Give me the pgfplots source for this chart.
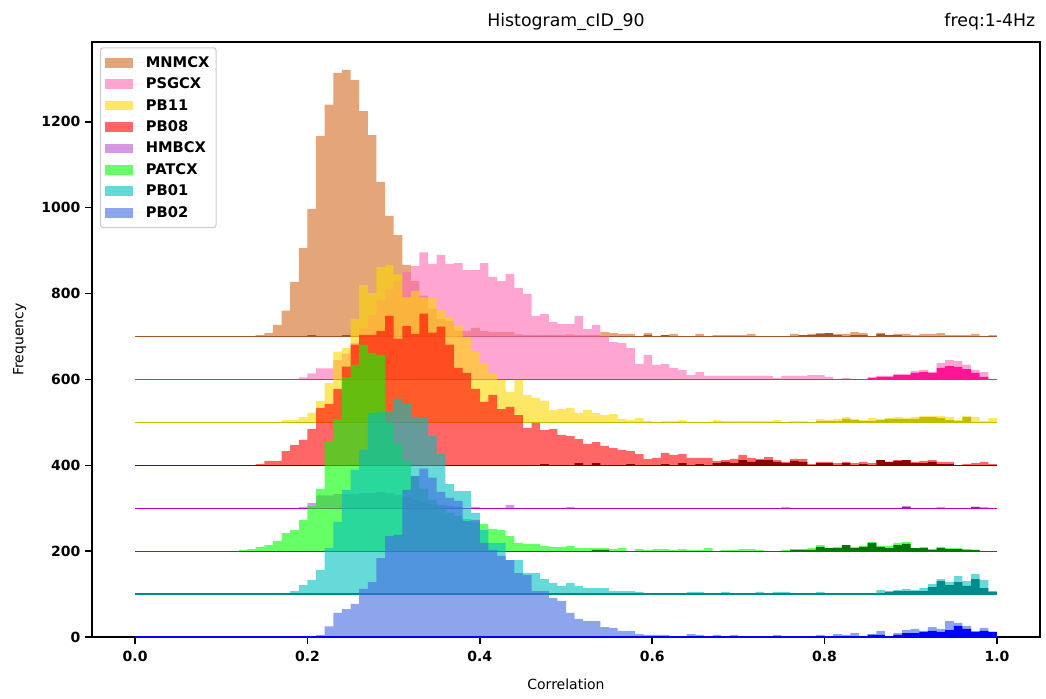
\documentclass[border=0pt]{standalone}
\usepackage{fontspec}
\setmainfont{DejaVu Sans}
\usepackage{pgfplots}
\usepackage{pgfplotstable}
\pgfplotsset{compat=1.18}
\usetikzlibrary{calc}

\definecolor{cM}{RGB}{210,105,30}
\definecolor{dM}{RGB}{160,82,45}
\definecolor{cP}{RGB}{255,105,180}
\definecolor{dP}{RGB}{255,20,147}
\definecolor{cY}{RGB}{255,215,0}
\definecolor{dY}{RGB}{191,191,0}
\definecolor{cR}{RGB}{255,0,0}
\definecolor{dR}{RGB}{139,0,0}
\definecolor{cH}{RGB}{186,85,211}
\definecolor{dH}{RGB}{191,0,191}
\definecolor{cG}{RGB}{0,255,0}
\definecolor{dG}{RGB}{0,120,0}
\definecolor{cC}{RGB}{0,191,191}
\definecolor{dC}{RGB}{0,139,139}
\definecolor{cB}{RGB}{65,105,225}
\definecolor{dB}{RGB}{0,0,255}

% bin left edge, then light/dark counts per station
\pgfplotstableread{
x M Md P Pd Y Yd R Rd H Hd G Gd C Cd B Bd
0.00 0 0 0 0 0 0 0 0 0 0 0 0 0 0 0 0
0.12 0 0 0 0 0 0 0 0 0 0 3 0 0 0 0 0
0.13 0 0 0 0 0 0 0 0 0 0 5 0 0 0 0 0
0.14 3 0 0 0 0 0 3 0 0 0 10 0 0 0 0 0
0.15 8 0 0 0 0 0 10 0 0 0 14 0 0 0 0 0
0.16 27 0 0 0 0 0 10 0 0 0 24 0 0 0 0 0
0.17 60 0 0 0 5 0 33 0 0 0 42 0 0 0 0 0
0.18 127 0 0 0 6 0 47 0 0 0 49 0 7 0 0 0
0.19 206 0 5 0 12 0 59 0 3 0 73 0 21 0 0 0
0.20 297 3 14 0 22 0 85 0 12 0 105 0 33 0 0 0
0.21 467 0 26 0 50 0 134 0 30 0 145 0 56 0 5 0
0.22 540 0 26 0 92 0 143 0 30 0 257 0 107 0 25 0
0.23 614 0 45 0 165 0 178 0 33 0 307 0 168 0 56 0
0.24 621 3 60 0 173 0 230 0 33 0 405 0 242 0 65 0
0.25 597 0 85 0 241 0 281 0 33 0 434 0 290 0 77 0
0.26 525 0 120 0 320 0 304 0 35 0 481 0 336 0 112 0
0.27 469 0 150 0 301 0 304 0 35 0 462 0 422 0 128 0
0.28 360 0 185 0 362 0 313 0 38 0 457 0 425 0 184 0
0.29 281 0 210 0 366 0 348 0 35 0 300 0 427 0 235 0
0.30 236 0 230 0 345 0 295 0 30 0 250 0 455 0 238 0
0.31 167 0 250 0 291 0 325 0 25 0 210 0 443 0 343 0
0.32 129 0 264 0 306 0 306 0 20 0 175 0 413 0 375 0
0.33 95 0 296 0 291 0 353 0 15 0 145 0 410 0 392 0
0.34 65 0 269 0 290 0 309 0 10 0 120 0 368 0 371 0
0.35 41 0 290 0 262 0 323 0 8 0 103 0 326 0 338 0
0.36 36 0 269 0 245 0 281 0 5 0 90 0 256 0 324 0
0.37 13 0 271 0 227 0 227 0 3 0 82 0 240 0 317 0
0.38 13 0 255 0 199 0 215 0 0 0 75 0 240 0 270 0
0.39 20 0 255 0 164 0 178 0 3 0 68 0 189 0 273 0
0.40 13 0 271 0 138 0 148 0 0 0 63 0 149 0 219 0
0.41 10 0 239 0 113 0 164 0 0 0 52 0 119 0 203 0
0.42 10 0 229 0 99 0 131 0 0 0 49 0 119 0 189 0
0.43 10 0 246 0 71 0 136 0 8 0 35 0 79 0 179 0
0.44 5 0 213 0 99 0 117 0 0 0 19 0 79 0 149 0
0.45 4 0 199 0 64 0 87 0 0 0 17 0 49 0 144 0
0.46 4 0 148 0 57 0 99 0 0 0 17 0 49 0 107 0
0.47 3 0 152 0 50 0 82 3 0 0 12 0 35 0 107 0
0.48 4 0 134 0 29 0 85 0 0 0 10 0 26 0 91 0
0.49 3 0 129 0 31 0 71 0 0 0 10 0 19 0 84 0
0.50 5 0 129 0 33 0 68 0 3 0 12 0 26 0 56 0
0.51 3 0 148 0 22 0 61 5 0 0 7 0 19 0 42 0
0.52 4 0 117 0 29 0 50 0 0 0 7 0 14 0 37 0
0.53 3 0 127 0 22 0 54 5 0 0 7 3 14 0 37 0
0.54 10 0 100 0 17 0 45 0 0 0 7 3 14 0 23 0
0.55 8 0 87 0 19 0 40 0 0 0 5 0 7 0 21 0
0.56 6 0 85 0 8 0 36 0 0 0 7 0 7 0 14 0
0.57 6 0 73 0 5 0 33 3 0 0 0 0 7 0 14 0
0.58 0 0 36 0 10 0 26 0 0 0 5 0 5 0 7 0
0.59 8 3 57 0 3 0 15 0 0 0 3 0 0 0 5 0
0.60 0 0 34 0 0 0 17 0 0 0 5 0 0 0 5 0
0.61 3 3 36 0 3 0 29 3 0 0 5 0 0 0 5 0
0.62 6 0 27 0 3 0 24 0 0 0 3 0 2 0 2 0
0.63 0 0 22 0 5 0 26 5 0 0 5 0 0 0 2 0
0.64 0 0 10 0 0 0 17 0 0 0 3 0 5 0 7 0
0.65 6 0 17 0 0 0 17 3 0 0 3 0 5 0 5 0
0.66 0 0 8 0 0 0 17 0 0 0 7 0 2 0 2 0
0.67 3 0 8 0 5 0 10 5 0 0 0 0 2 0 5 0
0.68 3 0 8 0 3 0 12 8 0 0 3 0 5 0 2 0
0.69 3 0 8 0 3 0 15 5 0 0 3 0 2 0 5 0
0.70 3 0 8 0 3 0 24 12 0 0 5 0 2 0 2 0
0.71 6 0 8 0 3 0 17 8 0 0 5 0 2 0 2 0
0.72 0 0 8 0 3 0 15 12 0 0 3 0 5 0 2 0
0.73 0 0 8 0 3 0 19 12 0 0 0 0 2 0 2 0
0.74 0 0 3 0 5 0 12 8 0 0 0 0 5 0 5 0
0.75 0 0 8 0 0 0 8 5 3 0 3 0 5 0 2 0
0.76 6 0 8 0 3 0 15 10 0 0 5 3 2 0 2 0
0.77 3 3 8 0 3 0 15 8 0 0 5 3 0 0 2 0
0.78 6 3 10 0 0 0 3 0 0 0 7 3 2 0 2 0
0.79 8 6 10 0 8 3 8 5 0 0 14 10 5 0 5 0
0.80 8 8 6 0 5 3 8 5 0 0 7 7 2 0 2 0
0.81 6 3 0 0 8 3 5 0 0 0 10 7 0 0 7 0
0.82 6 0 3 0 12 8 8 5 0 0 14 14 0 0 5 0
0.83 10 3 0 0 8 5 5 0 0 0 10 7 2 0 9 2
0.84 8 3 0 0 5 3 8 3 0 0 12 10 2 0 2 0
0.85 0 0 6 3 10 3 5 0 0 0 21 19 0 0 7 5
0.86 8 6 8 6 8 5 12 12 0 0 12 10 9 0 14 5
0.87 4 3 8 6 10 8 8 8 0 0 12 7 7 5 2 0
0.88 6 3 13 10 12 8 12 10 0 0 19 14 9 7 9 5
0.89 6 0 13 10 10 8 12 12 5 3 21 17 12 7 16 9
0.90 3 0 20 15 12 8 8 5 0 0 7 7 9 7 19 9
0.91 6 0 22 17 15 12 10 5 0 0 10 7 14 7 14 12
0.92 6 0 17 15 15 12 12 8 0 0 5 3 23 16 23 14
0.93 8 0 38 27 15 10 8 3 3 0 10 7 35 30 19 12
0.94 3 0 45 31 12 5 8 3 0 0 7 5 28 21 37 16
0.95 3 0 43 29 5 3 0 0 0 0 7 5 42 28 33 26
0.96 3 0 34 24 15 12 3 0 0 0 5 3 30 19 26 19
0.97 6 0 22 15 12 0 5 0 3 3 3 3 47 35 14 12
0.98 0 0 17 6 3 0 8 0 3 0 0 0 33 14 21 14
0.99 3 0 0 0 10 0 3 0 0 0 0 0 7 5 12 12
1.00 0 0 0 0 0 0 0 0 0 0 0 0 0 0 0 0
}\hist

% light histogram (in legend), dark sub-histogram, and the baseline of one station
\newcommand{\ridge}[5]{% light col, dark col, column, dark column, offset
  \addplot[const plot, draw=none, fill=#1, fill opacity=0.6]
     table[x=x, y expr=\thisrow{#3}+#5]{\hist};
}
\newcommand{\ridgerest}[3]{% dark col, dark column, offset
  \addplot[const plot, draw=none, fill=#1, forget plot]
     table[x=x, y expr=\thisrow{#2}+#3]{\hist};
  \addplot[#1, line width=0.9pt, forget plot] coordinates {(0,#3) (1,#3)};
}

\begin{document}
\begin{tikzpicture}
\begin{axis}[
  scale only axis, width=711pt, height=446.25pt,
  xmin=-0.05, xmax=1.05, ymin=0, ymax=1386,
  xtick={0,0.2,0.4,0.6,0.8,1.0},
  xticklabels={0.0,0.2,0.4,0.6,0.8,1.0},
  ytick={0,200,400,600,800,1000,1200},
  tick align=outside, tick pos=left,
  major tick length=5.25pt,
  every tick/.style={black, line width=1.1pt},
  axis line style={line width=1.1pt},
  ticklabel style={font=\bfseries\fontsize{10.5}{12}\selectfont},
  xticklabel style={yshift=-1.5pt},
  /pgf/number format/assume math mode=true,
  /pgf/number format/1000 sep={},
  legend cell align=left,
  legend image code/.code={\fill[#1, rounded corners=0pt] (0pt,-3.7pt) rectangle (21pt,3.7pt); \path (0pt,0pt) -- (29pt,0pt);},
  legend style={at={(rel axis cs:0,1)}, anchor=north west, xshift=6pt, yshift=-4pt,
    draw=black!20, line width=0.8pt, rounded corners=2pt, fill=white,
    inner xsep=3pt, inner ysep=3pt, row sep=0pt,
    font=\bfseries\fontsize{11}{12.5}\selectfont,
    nodes={inner ysep=1.9pt, text height=9.5pt, text depth=2.8pt}},
]
\coordinate (bl) at (rel axis cs:0,0);
\coordinate (tr) at (rel axis cs:1,1);

\ridge{cM}{dM}{M}{Md}{700}  \addlegendentry{MNMCX}
\ridgerest{dM}{Md}{700}
\ridge{cP}{dP}{P}{Pd}{600}  \addlegendentry{PSGCX}
\ridgerest{dP}{Pd}{600}
\ridge{cY}{dY}{Y}{Yd}{500}  \addlegendentry{PB11}
\ridgerest{dY}{Yd}{500}
\ridge{cR}{dR}{R}{Rd}{400}  \addlegendentry{PB08}
\ridgerest{dR}{Rd}{400}
\ridge{cH}{dH}{H}{Hd}{300}  \addlegendentry{HMBCX}
\ridgerest{dH}{Hd}{300}
\ridge{cG}{dG}{G}{Gd}{200}  \addlegendentry{PATCX}
\ridgerest{dG}{Gd}{200}
\ridge{cC}{dC}{C}{Cd}{100}  \addlegendentry{PB01}
\ridgerest{dC}{Cd}{100}
\ridge{cB}{dB}{B}{Bd}{0}    \addlegendentry{PB02}
\ridgerest{dB}{Bd}{0}
\end{axis}

\node[anchor=base, font=\fontsize{13}{15}\selectfont] at ($(bl|-tr)!0.5!(tr)+(0,11.9pt)$) {Histogram\_cID\_90};
\node[anchor=base east, font=\fontsize{13}{15}\selectfont] at ($(tr)+(0,11.9pt)$) {freq:1-4Hz};
\node[anchor=base, font=\fontsize{10.5}{12}\selectfont] at ($(bl)!0.5!(tr|-bl)+(0,-39.5pt)$) {Correlation};
\node[anchor=base, rotate=90, font=\fontsize{10.5}{12}\selectfont] at ($(bl)!0.5!(bl|-tr)+(-51.4pt,0)$) {Frequency};

\pgfresetboundingbox
\path[use as bounding box] ($(bl)+(-69pt,-45.75pt)$) rectangle ($(tr)+(4.5pt,31.5pt)$);
\end{tikzpicture}
\end{document}
